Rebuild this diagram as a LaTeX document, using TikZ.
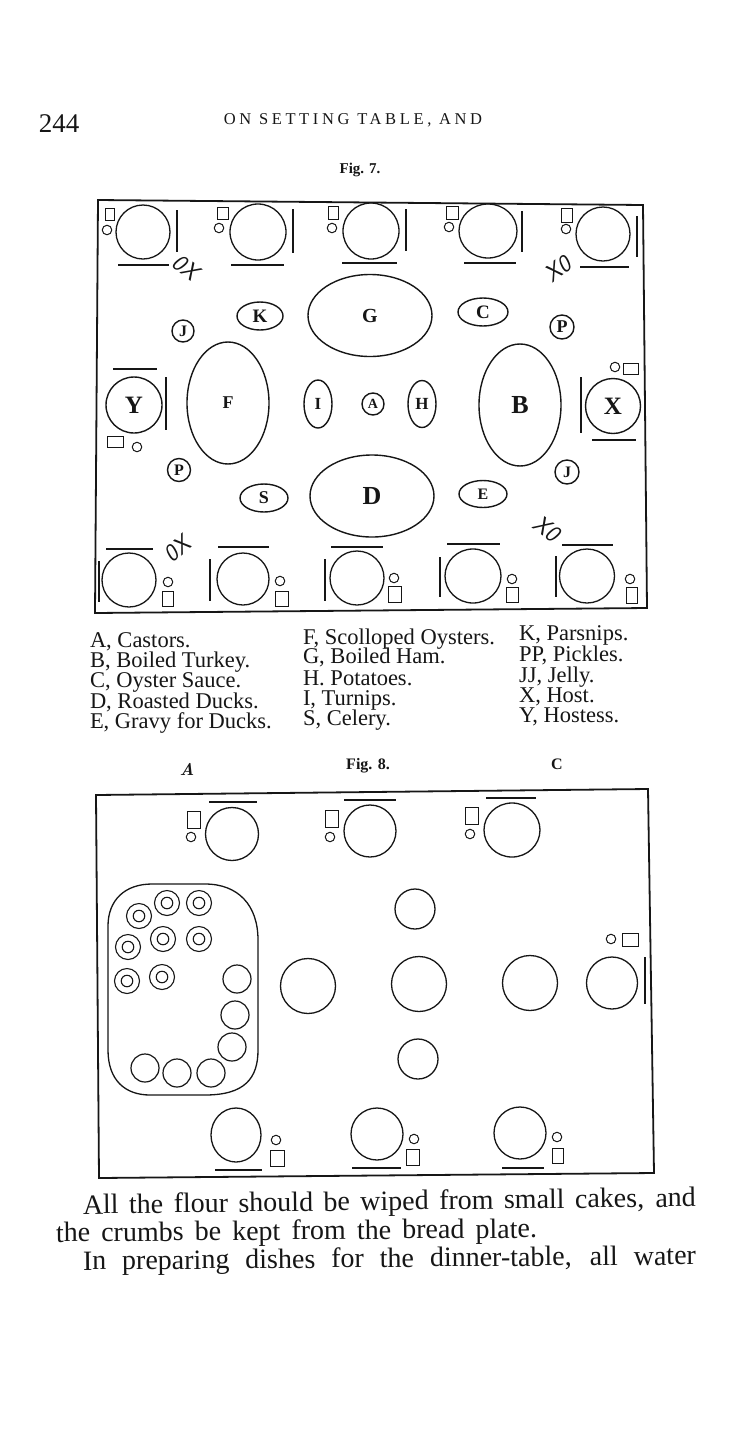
\documentclass[tikz,border=0pt]{standalone}
\usepackage{fontspec}
\usetikzlibrary{shapes.geometric}
\newfontfamily\oldf{Liberation Serif}
\definecolor{ink}{RGB}{22,22,22}
\newcommand{\fs}[1]{\fontsize{#1}{#1}\selectfont}
\tikzset{
  x=1pt,y=-1pt,
  every node/.style={text=ink,inner sep=0,outer sep=0},
  frameline/.style={draw=ink,line width=1.8pt,line join=miter},
  plate/.style={ellipse,draw=ink,line width=1.3pt},
  dish/.style={ellipse,draw=ink,line width=1.4pt,font=\oldf\bfseries\fs{14}},
  bar/.style={draw=ink,line width=2pt},
  napkin/.style={draw=ink,line width=0.9pt},
  glass/.style={circle,draw=ink,line width=1pt,minimum size=9.5pt},
  cupout/.style={circle,draw=ink,line width=1.1pt,minimum size=25pt},
  cupin/.style={circle,draw=ink,line width=1.1pt,minimum size=11.5pt},
  plainc/.style={circle,draw=ink,line width=1.2pt,minimum size=28pt},
  hand/.style={font=\fs{24}\sffamily\itshape},
  legend/.style={anchor=base west,font=\oldf\fs{22.5}},
  body/.style={anchor=base west,font=\oldf\fs{28}},
}
\newcommand{\pl}[6]{\node[plate,minimum width=#4*2pt,minimum height=#5*2pt] (#1) at (#2,#3) {#6};}
\newcommand{\dsh}[7][]{\node[dish,minimum width=#5*2pt,minimum height=#6*2pt,#1] (#2) at (#3,#4) {#7};}
\newcommand{\gl}[3]{\node[glass] (#1) at (#2,#3) {};}
\begin{document}
\begin{tikzpicture}
\useasboundingbox (0,0) rectangle (750,1446);
\fill[white] (0,0) rectangle (750,1446);

% ---- page head
\node[font=\oldf\fs{27}] (pageno) at (59,124) {244};
\node[font=\oldf\fs{16.5}\addfontfeatures{LetterSpace=22}] (head) at (353,120) {ON SETTING TABLE, AND};
\node[font=\oldf\bfseries\fs{15}] (fig7) at (360,170) {Fig. 7.};

% ---- Fig 7 frame
\draw[frameline] (98,200) -- (643,205) -- (647,608) -- (95,613) -- cycle;

% top row seats
\pl{t1}{143}{232}{27}{27}{}
\draw[napkin] (105,208) rectangle (114,220); \gl{tg1}{107}{230}
\draw[bar] (177,210) -- (177,252); \draw[bar] (118,265) -- (169,265);
\pl{t2}{258}{232}{28}{28}{}
\draw[napkin] (217,207) rectangle (228,219); \gl{tg2}{219}{228}
\draw[bar] (293,209) -- (293,253); \draw[bar] (231,265) -- (284,265);
\pl{t3}{371}{231}{28}{28}{}
\draw[napkin] (328,206) rectangle (338,219); \gl{tg3}{332}{228}
\draw[bar] (406,209) -- (406,251); \draw[bar] (342,263) -- (397,263);
\pl{t4}{488}{231}{29}{27}{}
\draw[napkin] (446,206) rectangle (458,219); \gl{tg4}{449}{227}
\draw[bar] (522,211) -- (522,252); \draw[bar] (464,263) -- (516,263);
\pl{t5}{603}{234}{27}{27}{}
\draw[napkin] (561,208) rectangle (572,222); \gl{tg5}{566}{229}
\draw[bar] (637,216) -- (637,257); \draw[bar] (580,267) -- (629,267);

% hand marks
\node[hand,rotate=-38] (ox1) at (186,267) {0X};
\node[hand,rotate=38] (xo1) at (558,269) {X0};
\node[hand,rotate=42] (ox2) at (177,549) {0X};
\node[hand,rotate=-36] (xo2) at (547,529) {X0};

% dishes
\dsh{g}{370}{315.5}{62}{41}{\fs{20}G}
\dsh{k}{260}{316}{23}{14}{\fs{19}K}
\dsh{jj1}{183}{331}{11}{11}{\fs{16}J}
\dsh{f}{228}{403}{41}{61}{\fs{18}F}
\dsh{i}{318}{404}{14}{24}{\fs{17}I}
\dsh{a}{373}{404}{11}{11}{\fs{14}A}
\dsh{h}{422}{404}{14}{23.5}{\fs{17}H}
\dsh{c}{483}{312}{25}{14}{\fs{19}C}
\dsh{p1}{562}{327}{12}{12}{\fs{18}P}
\dsh{b}{520}{405}{41}{61}{\fs{26}B}
\dsh{d}{372}{496}{62}{41}{\fs{26}D}
\dsh{s}{264}{498}{24}{14}{\fs{18}S}
\dsh{e}{483}{494}{24}{13.5}{\fs{16}E}
\dsh{jj2}{567}{472}{12}{12}{\fs{16}J}
\dsh{p2}{179}{470}{11.5}{11.5}{\fs{16}P}

% hostess and host
\node[dish,minimum width=56pt,minimum height=56pt,font=\oldf\bfseries\fs{25}] (y) at (134,405) {Y};
\draw[bar] (113,369) -- (157,369); \draw[bar] (166,377) -- (166,430);
\draw[napkin] (107,436) rectangle (123,447); \gl{yg}{137}{447}
\node[dish,minimum width=55pt,minimum height=55pt,font=\oldf\bfseries\fs{25}] (x) at (613,406) {X};
\draw[bar] (581,377) -- (581,433); \draw[bar] (592,440) -- (636,440);
\draw[napkin] (623,363) rectangle (638,374); \gl{xg}{615}{367}

% bottom row seats
\pl{u1}{129}{580}{27}{27}{}
\draw[bar] (99,561) -- (99,602); \draw[bar] (106,549) -- (153,549);
\gl{ug1}{168}{582} \draw[napkin] (162,591) rectangle (173,606);
\pl{u2}{243}{579}{26}{26}{}
\draw[bar] (210,559) -- (210,601); \draw[bar] (218,547) -- (269,547);
\gl{ug2}{280}{581} \draw[napkin] (275,591) rectangle (288,606);
\pl{u3}{357}{578}{27}{27}{}
\draw[bar] (325,559) -- (325,601); \draw[bar] (331,547) -- (383,547);
\gl{ug3}{394}{578} \draw[napkin] (388,586) rectangle (401,602);
\pl{u4}{473}{576}{28}{27}{}
\draw[bar] (440,557) -- (440,597); \draw[bar] (447,544) -- (500,544);
\gl{ug4}{512}{579} \draw[napkin] (506,587) rectangle (518,602);
\pl{u5}{587}{576}{27.5}{27}{}
\draw[bar] (556,556) -- (556,597); \draw[bar] (562,545) -- (613,545);
\gl{ug5}{630}{579} \draw[napkin] (626,587) rectangle (637,603);

% ---- legend
\node[legend] (l1) at (90,647) {A, Castors.};
\node[legend] (l2) at (90,667) {B, Boiled Turkey.};
\node[legend] (l3) at (90,687) {C, Oyster Sauce.};
\node[legend] (l4) at (90,708) {D, Roasted Ducks.};
\node[legend] (l5) at (90,728) {E, Gravy for Ducks.};
\node[legend] (m1) at (303,644) {F, Scolloped Oysters.};
\node[legend] (m2) at (303,663) {G, Boiled Ham.};
\node[legend] (m3) at (303,685) {H. Potatoes.};
\node[legend] (m4) at (303,705) {I, Turnips.};
\node[legend] (m5) at (303,725) {S, Celery.};
\node[legend] (r1) at (519,640) {K, Parsnips.};
\node[legend] (r2) at (519,661) {PP, Pickles.};
\node[legend] (r3) at (519,682) {JJ, Jelly.};
\node[legend] (r4) at (519,702) {X, Host.};
\node[legend] (r5) at (519,722) {Y, Hostess.};

% ---- Fig 8 labels
\node[font=\fs{17}\bfseries\itshape] (la) at (187,769) {A};
\node[font=\oldf\bfseries\fs{16}] (fig8) at (368,766) {Fig. 8.};
\node[font=\oldf\bfseries\fs{16}] (lc) at (557,764) {C};

% ---- Fig 8 frame
\draw[frameline] (96,795) -- (648,789) -- (654,1173) -- (99,1178) -- cycle;

% seats
\pl{v1}{232}{834}{26.5}{26.5}{}
\draw[napkin] (187,811) rectangle (200,828); \gl{vg1}{191}{837}
\draw[bar] (209,802) -- (257,802);
\pl{v2}{370}{831}{26}{26}{}
\draw[napkin] (325,810) rectangle (338,827); \gl{vg2}{330}{837}
\draw[bar] (344,800) -- (396,800);
\pl{v3}{512}{830}{28}{27}{}
\draw[napkin] (465,807) rectangle (478,824); \gl{vg3}{470}{834}
\draw[bar] (486,798) -- (536,798);
\pl{v4}{612}{983}{25.5}{26}{}
\gl{vg4}{611}{939} \draw[napkin] (622,933) rectangle (638,946);
\draw[bar] (645,957) -- (645,1004);
\pl{v5}{236}{1135}{25}{27}{}
\gl{vg5}{276}{1140} \draw[napkin] (270,1150) rectangle (284,1166);
\draw[bar] (215,1170) -- (262,1170);
\pl{v6}{377}{1134}{26}{26}{}
\gl{vg6}{414}{1139} \draw[napkin] (406,1149) rectangle (419,1165);
\draw[bar] (352,1168) -- (401,1168);
\pl{v7}{520}{1133}{26}{26}{}
\gl{vg7}{557}{1137} \draw[napkin] (552,1148) rectangle (563,1163);
\draw[bar] (502,1168) -- (544,1168);

% centre dishes
\pl{c1}{415}{909}{20}{20}{}
\pl{c2}{419}{984}{27.5}{27.5}{}
\pl{c3}{418}{1059}{20}{20}{}
\pl{c4}{530}{983}{27.5}{27.5}{}
\pl{c5}{308}{986}{27.5}{27.5}{}

% side tray
\draw[draw=ink,line width=1.3pt] (108,926) .. controls (108,900) and (125,884) .. (152,884) -- (205,884)
  .. controls (238,884) and (258,905) .. (258,940) -- (258,1050)
  .. controls (258,1078) and (245,1095) .. (205,1095) -- (150,1095)
  .. controls (125,1095) and (108,1080) .. (108,1050) -- cycle;
\foreach \n/\xx/\yy in {a/139/916,b/167/903,c/199/903,d/128/947,e/163/939,f/199/939,g/127/981,h/162/977}{
  \node[cupout] (co\n) at (\xx,\yy) {};
  \node[cupin] (ci\n) at (\xx,\yy) {};
}
\foreach \n/\xx/\yy in {a/237/979,b/235/1015,c/232/1047,d/145/1068,e/177/1073,f/211/1073}{
  \node[plainc] (pc\n) at (\xx,\yy) {};
}

% ---- body text
\node[body,rotate=0.7] (t1x) at (83,1214) {\makebox[613pt][s]{All the flour should be wiped from small cakes, and}};
\node[body,rotate=0.5] (t2x) at (56,1242) {\makebox[481pt][s]{the crumbs be kept from the bread plate.}};
\node[body,rotate=0.5] (t3x) at (83,1270) {\makebox[613pt][s]{In preparing dishes for the dinner-table, all water}};
\end{tikzpicture}
\end{document}
